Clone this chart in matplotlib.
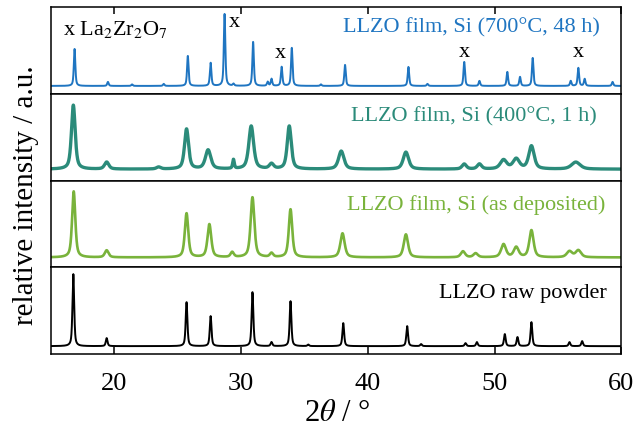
import numpy as np
import matplotlib
matplotlib.use('Agg')
import matplotlib.pyplot as plt

plt.rcParams['font.family'] = ['Liberation Serif', 'DejaVu Serif']
plt.rcParams['mathtext.fontset'] = 'stix'

# peak positions (2theta, deg), heights (arb.) and FWHM (deg)
pos_700 = [16.87, 19.5, 21.4, 23.9, 25.8, 27.6, 28.7, 29.4, 30.95, 32.1, 32.4, 33.2, 34.0,
           36.3, 38.2, 43.2, 44.7, 47.6, 48.8, 51.0, 52.0, 53.0, 56.0, 56.6, 57.1, 59.3]
h_700 = [37, 4, 1.5, 2, 30, 23, 72, 2, 44, 4, 7, 19, 38,
         1.5, 21, 19, 2, 24, 5, 14, 9, 28, 5, 18, 7, 4]
w_700 = [0.14] * len(pos_700)

pos_400 = [16.77, 19.4, 23.5, 25.7, 27.4, 29.4, 30.8, 32.4, 33.8, 37.9, 43.0,
           47.6, 48.8, 50.7, 51.7, 52.9, 56.4]
h_400 = [64, 7, 2, 40, 19, 9, 43, 5, 43, 18, 17, 5, 5, 9, 10, 23, 7]
w_400 = [0.35, 0.4, 0.4, 0.38, 0.5, 0.15, 0.45, 0.4, 0.38, 0.5, 0.5,
         0.4, 0.4, 0.6, 0.6, 0.5, 0.8]

pos_dep = [16.8, 19.4, 25.7, 27.5, 29.3, 30.9, 32.4, 33.9, 38.0, 43.0,
           47.5, 48.5, 50.7, 51.7, 52.9, 55.9, 56.6]
h_dep = [66, 7, 44, 33, 5, 60, 4, 48, 24, 23, 6, 4, 13, 10, 27, 6, 7]
w_dep = [0.3, 0.35, 0.32, 0.35, 0.3, 0.35, 0.3, 0.32, 0.4, 0.4,
         0.4, 0.4, 0.45, 0.45, 0.4, 0.5, 0.5]

pos_raw = [16.77, 19.4, 25.7, 27.6, 30.9, 32.4, 33.9, 35.3, 38.06, 43.1, 44.2,
           47.7, 48.6, 50.8, 51.8, 52.9, 55.9, 56.9]
h_raw = [72, 8, 44, 30, 54, 4, 45, 1.5, 23, 20, 2, 3, 4, 12, 9, 24, 4, 5]
w_raw = [0.16] * len(pos_raw)

# La2Zr2O7 reflections marked with "x"
x_marks = [29.45, 33.1, 47.6, 56.6]
x_mark_y = [0.83, 0.48, 0.49, 0.49]

labels = ['LLZO film, Si (700°C, 48 h)', 'LLZO film, Si (400°C, 1 h)',
          'LLZO film, Si (as deposited)', 'LLZO raw powder']
colors = ['#1f75c1', '#2b8b7a', '#79b33b', '#000000']


def pattern(tt, pos, h, w, eta=0.6):
    y = np.zeros_like(tt)
    for p, a, fw in zip(pos, h, w):
        g = 0.5 * fw
        lor = g ** 2 / ((tt - p) ** 2 + g ** 2)
        gau = np.exp(-np.log(2) * ((tt - p) / g) ** 2)
        y += a * (eta * lor + (1 - eta) * gau)
    return y


tt = np.linspace(15, 60, 6000)
series = [(pos_700, h_700, w_700), (pos_400, h_400, w_400),
          (pos_dep, h_dep, w_dep), (pos_raw, h_raw, w_raw)]
base = [8, 11.5, 10, 8]
lws = [1.4, 2.4, 1.9, 1.4]
label_x = [0.962, 0.957, 0.972, 0.974]
label_y = [0.77, 0.743, 0.729, 0.715]

fig, axes = plt.subplots(4, 1, figsize=(6.44, 4.31), dpi=100, sharex=True)
fig.subplots_adjust(left=0.079, right=0.965, top=0.981, bottom=0.176, hspace=0)

panel_h = 86.75
for i, ax in enumerate(axes):
    pos, h, w = series[i]
    ax.plot(tt, pattern(tt, pos, h, w), color=colors[i], lw=lws[i])
    ax.set_ylim(-base[i], panel_h - base[i])
    ax.set_xlim(15, 60)
    ax.set_yticks([])
    for s in ax.spines.values():
        s.set_linewidth(1.1)
    ax.tick_params(axis='x', direction='in', length=5, width=1.1,
                   top=(i == 0), bottom=(i == 3), labelbottom=(i == 3),
                   labelsize=19, pad=13)
    ax.text(label_x[i], label_y[i], labels[i], transform=ax.transAxes,
            ha='right', va='center', fontsize=16, color=colors[i])

axes[3].set_xticks([20, 30, 40, 50, 60])
axes[0].text(0.021, 0.75, r'x La$_2$Zr$_2$O$_7$', transform=axes[0].transAxes,
             ha='left', va='center', fontsize=16)
for xm, ym in zip(x_marks, x_mark_y):
    axes[0].text(xm, ym, 'x', transform=axes[0].get_xaxis_transform(),
                 ha='center', va='center', fontsize=16)

fig.text(0.523, 0.040, r'2$\theta$ / °', ha='center', va='center', fontsize=22)
fig.text(0.041, 0.546, 'relative intensity / a.u.', rotation=90,
         ha='center', va='center', fontsize=21)

fig.savefig('out.png', dpi=100)
